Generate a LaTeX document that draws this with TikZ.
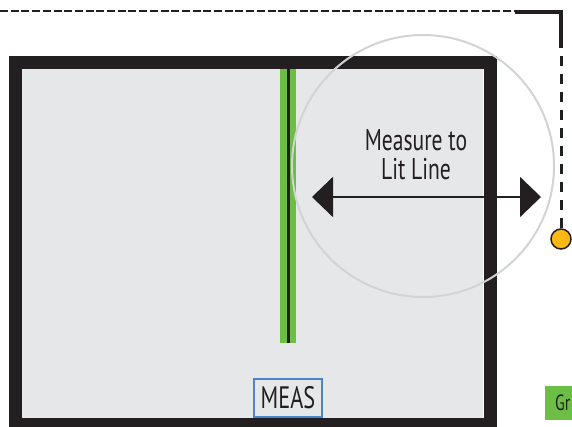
\documentclass[tikz,border=0pt]{standalone}
\usepackage{fontspec}
\setmainfont{PT Sans}[FakeStretch=0.72]
\usetikzlibrary{arrows.meta}
\definecolor{ink}{HTML}{231F20}
\definecolor{panel}{HTML}{E6E7E8}
\definecolor{litgreen}{HTML}{6CBE45}
\definecolor{ringgray}{HTML}{D1D3D4}
\definecolor{measblue}{HTML}{4A86C8}
\definecolor{sensorfill}{HTML}{FDB913}
\begin{document}
\begin{tikzpicture}[x=1pt,y=-1pt,
  caption/.style={text=ink, font=\fontsize{30}{29}\selectfont, inner sep=0pt, align=center},
  bigtip/.tip={Triangle[length=21pt,width=40pt]},
  frame/.style={draw=ink, line width=13pt},
  ring/.style={draw=ringgray, line width=2pt},
  sensor/.style={circle, draw=ink, fill=sensorfill, line width=1.5pt, minimum size=20pt, inner sep=0pt},
  measbox/.style={draw=measblue, line width=2pt, minimum width=68pt, minimum height=38pt, inner sep=0pt, text=ink, font=\fontsize{31}{31}\selectfont},
  tag/.style={fill=litgreen, anchor=north west, inner sep=0pt, minimum height=34pt, text width=40pt, align=left, text=ink, font=\fontsize{22}{24}\selectfont}
]
\useasboundingbox (0,0) rectangle (572,427);

% room panel and its thick wall
\fill[panel] (22,69) rectangle (483,418);
\draw[frame] (15.5,62.5) rectangle (490,424.5);

% lit line: green band with a dark centre line
\fill[litgreen] (280,69) rectangle (296,343);
\draw[ink, line width=2.5pt] (288.5,69) -- (288.5,343);

% highlight ring
\draw[ring] (423,166) circle (131pt);

% measurement label and double arrow
\node[caption] (msg) at (416,155) {Measure to\\Lit Line};
\coordinate (aL) at (312,197);
\coordinate (aR) at (541,197);
\draw[ink, line width=2pt, {bigtip}-{bigtip}] (aL) -- (aR);

% sensor cable: dashed run, solid corner, dashed drop
\coordinate (d0) at (0,11);
\coordinate (d1) at (515,11);
\draw[ink, line width=2.2pt, dash pattern=on 8pt off 2.7pt] (d0) -- (d1);
\coordinate (c0) at (515,12);
\coordinate (c2) at (561,48);
\draw[ink, line width=4pt] (c0) -| (c2);
\node[sensor] (sens) at (561,239) {};
\draw[ink, line width=3pt, dash pattern=on 10pt off 8pt, dash phase=10pt] (c2) -- (sens.north);

% buttons
\node[measbox] (meas) at (288,398) {MEAS};
\node[tag] (gr) at (545,386) {\hspace*{10pt}Gr};
\end{tikzpicture}
\end{document}
